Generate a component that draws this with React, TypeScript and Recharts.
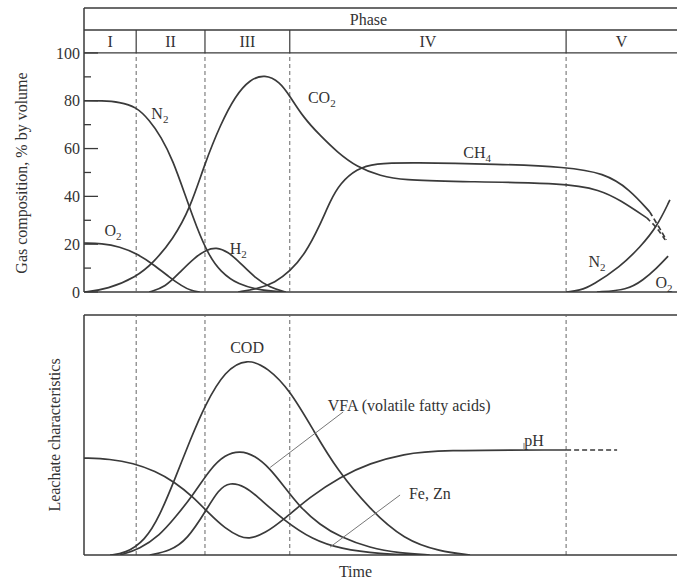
import React from 'react';
import { ComposedChart, Line, XAxis, YAxis, ReferenceLine, ReferenceArea, ReferenceDot } from 'recharts';

const FONT = '"Liberation Serif", "DejaVu Serif", serif';
const INK = '#3a3a3a';
const TEXT = '#333';

// phase boundaries on the time axis (0..100)
const PHASE_BOUNDS = [0, 8.8, 20.4, 34.7, 81.3, 100];
const PHASES = ['I', 'II', 'III', 'IV', 'V'];
const GAS_TICKS = [0, 10, 20, 30, 40, 50, 60, 70, 80, 90, 100];

// gas composition, [time, % by volume]
const N2_EARLY: number[][] = [[0, 80], [3, 80], [6, 79.5], [8.8, 77.5], [11, 72], [13, 65], [15, 55], [17, 41], [19, 27], [21, 15.5], [23, 8.5], [26, 3], [30, 0.6], [34, 0]];
const O2_EARLY: number[][] = [[0, 20.5], [3, 20.3], [6, 19], [9, 16], [12, 11], [14.5, 6], [16.5, 2.5], [18, 0.6], [19.5, 0]];
const CO2: number[][] = [[0, 0], [4, 1.2], [8.8, 6.3], [11.6, 12], [15, 22], [17.9, 35], [20.4, 54], [23, 70], [25.5, 82], [28, 89], [30.5, 91], [33, 88], [34.7, 82], [37, 73], [39.8, 65.5], [42.7, 58.5], [46, 52.3], [50, 48.5], [54, 46.8], [62, 46.2], [81.3, 45.6], [87, 42.7], [90.4, 38.5], [94.9, 31]];
const CO2_TAIL: number[][] = [[94.9, 31], [96.6, 27], [98, 21.8]];
const CH4: number[][] = [[26, 0], [29.5, 1.5], [32.2, 4], [34.7, 8.5], [37.3, 16], [39.8, 28], [41.5, 38], [43.2, 45.5], [46, 51.5], [49, 53.8], [55, 54.2], [70, 53.5], [81.3, 52.3], [87.7, 49.8], [92, 43], [95.4, 33.5]];
const CH4_TAIL: number[][] = [[95.4, 33.5], [97, 27], [98.2, 21.8]];
const H2: number[][] = [[11, 0], [13.7, 2], [16.2, 8.4], [18.7, 14.5], [20.6, 17.6], [22.3, 18.8], [24.3, 16.8], [26.3, 12.3], [28.8, 6], [31.4, 1.8], [34, 0]];
const N2_LATE: number[][] = [[81.3, 0], [83.6, 0.6], [85.8, 2.9], [90.4, 10.5], [93.8, 18.8], [96.6, 27.2], [98.8, 38.5]];
const O2_LATE: number[][] = [[86.5, 0], [91.6, 0.8], [94.3, 5], [96.6, 10], [98.5, 15]];

// leachate characteristics, [time, relative level]
const PH: number[][] = [[0, 40.4], [4.4, 40], [8.3, 38.3], [12, 35], [15.3, 30.4], [18.4, 24.2], [21, 17.5], [23.8, 11], [26.3, 7.5], [28, 6.7], [30.5, 9], [33.6, 14.6], [38.1, 24.2], [43.2, 32.5], [48.2, 38.3], [54, 42.1], [59.5, 43.75], [81.3, 43.75]];
const PH_TAIL: number[][] = [[81.3, 43.75], [89.9, 43.75]];
const COD: number[][] = [[4.4, 0], [6.9, 0.6], [10.3, 6], [12.8, 16.5], [15.3, 31.5], [17.9, 47.9], [20.4, 62.5], [23.8, 77], [27.5, 82], [31, 78], [34.7, 68.8], [38.9, 51], [42.7, 35.4], [48.2, 19], [54, 6.3], [60, 1.5], [65.1, 0]];
const VFA: number[][] = [[6.1, 0], [9.4, 2.5], [12.8, 8.3], [15.3, 15.4], [18.4, 25], [21.3, 36], [23.8, 41.8], [26.3, 43.5], [28.8, 41.5], [31.4, 36], [33.9, 28], [36.4, 20], [39.8, 12.5], [43.2, 7.5], [48.2, 2.9], [53.3, 0.8], [58.3, 0]];
const FE_ZN: number[][] = [[11.1, 0], [14.5, 1.7], [17.4, 6.3], [20.7, 19], [22.6, 27], [24.6, 30.5], [27.2, 28.5], [29.2, 24.5], [33.6, 14.6], [38.6, 6.3], [43.2, 2.6], [49.9, 0.4], [56.7, 0]];

const GAS_LABELS = [
  { t: 12.8, v: 74.9, text: 'N', sub: '2' },
  { t: 40.1, v: 81.6, text: 'CO', sub: '2' },
  { t: 4.9, v: 25.9, text: 'O', sub: '2' },
  { t: 26.0, v: 18.4, text: 'H', sub: '2' },
  { t: 66.3, v: 58.2, text: 'CH', sub: '4' },
  { t: 86.5, v: 12.6, text: 'N', sub: '2' },
  { t: 97.8, v: 4.2, text: 'O', sub: '2' },
];
const LEACHATE_LABELS = [
  { t: 27.5, v: 86.7, text: 'COD', anchor: 'middle' },
  { t: 41.1, v: 62.5, text: 'VFA (volatile fatty acids)', anchor: 'start' },
  { t: 75.9, v: 47.9, text: 'pH', anchor: 'middle' },
  { t: 54.8, v: 25.8, text: 'Fe, Zn', anchor: 'start' },
];
const LEADERS = [
  [[31.4, 36.5], [43.7, 59.6]],
  [[41.5, 3.3], [53.3, 25]],
  [[74.2, 43.75], [74.2, 46.7]],
];

const pts = (arr: number[][]) => arr.map(([t, v]) => ({ t, v }));

const makeLabel = (text: string, sub?: string, anchor: string = 'middle', dx = 0) => (props: any) => {
  const vb = props.viewBox || {};
  const x = (vb.x ?? 0) + (vb.width ?? 0) / 2 + dx;
  const y = (vb.y ?? 0) + (vb.height ?? 0) / 2;
  return (
    <text x={x} y={y} dy="0.35em" textAnchor={anchor} fontFamily={FONT} fontSize={16} fill={TEXT}>
      {text}
      {sub && <tspan fontSize={11} dy={4}>{sub}</tspan>}
    </text>
  );
};

const GasTick = (props: any) => {
  const { x, y, payload } = props;
  const major = payload.value % 20 === 0;
  return (
    <g>
      <line x1={x + 4} x2={x + 4 + (major ? 14 : 7)} y1={y} y2={y} stroke={INK} strokeWidth={1.3} />
      {major && (
        <text x={x} y={y} dy="0.35em" textAnchor="end" fontFamily={FONT} fontSize={16} fill={TEXT}>
          {payload.value}
        </text>
      )}
    </g>
  );
};

const axisTitle = (text: string, dx: number, dy: number) => (props: any) => {
  const vb = props.viewBox || {};
  const x = (vb.x ?? 0) + dx;
  const y = (vb.y ?? 0) + (vb.height ?? 0) / 2 + dy;
  return (
    <text x={x} y={y} transform={`rotate(-90 ${x} ${y})`} textAnchor="middle" fontFamily={FONT} fontSize={16} fill={TEXT}>
      {text}
    </text>
  );
};

const curve = (key: string, arr: number[][], dashed = false) => (
  <Line
    key={key}
    data={pts(arr)}
    dataKey="v"
    type="basis"
    dot={false}
    activeDot={false}
    stroke={INK}
    strokeWidth={1.7}
    strokeDasharray={dashed ? '5 3' : undefined}
    isAnimationActive={false}
  />
);

const GAS_TOP = 118.8;
const ROW_LINE = 109.6;

const App: React.FC = () => {
  return (
    <div style={{ position: 'absolute', left: 0, top: 0, width: 677, height: 579, background: '#fff' }}>
      <div style={{ position: 'absolute', left: 0, top: 0 }}>
        <ComposedChart width={677} height={300} margin={{ top: 8, right: 0, bottom: 8, left: 0 }}>
          <XAxis type="number" dataKey="t" domain={[0, 100]} hide allowDataOverflow />
          <YAxis
            type="number"
            domain={[0, GAS_TOP]}
            ticks={GAS_TICKS}
            interval={0}
            width={84}
            tickSize={0}
            tickMargin={4}
            tickLine={false}
            tick={<GasTick />}
            axisLine={{ stroke: INK, strokeWidth: 1.5 }}
            allowDataOverflow
            label={axisTitle('Gas composition, % by volume', 27, 23)}
          />
          <ReferenceLine y={GAS_TOP} stroke={INK} strokeWidth={1.5} />
          <ReferenceLine y={ROW_LINE} stroke={INK} strokeWidth={1.3} />
          <ReferenceLine y={100} stroke={INK} strokeWidth={1.3} />
          <ReferenceLine y={0} stroke={INK} strokeWidth={1.5} />
          <ReferenceArea x1={0} x2={100} y1={ROW_LINE} y2={GAS_TOP} fillOpacity={0} strokeOpacity={0} label={makeLabel('Phase', undefined, 'middle', -12)} />
          {PHASES.map((p, i) => (
            <ReferenceArea key={p} x1={PHASE_BOUNDS[i]} x2={PHASE_BOUNDS[i + 1]} y1={100} y2={ROW_LINE} fillOpacity={0} strokeOpacity={0} label={makeLabel(p)} />
          ))}
          {PHASE_BOUNDS.slice(1, -1).map((b) => (
            <ReferenceLine key={`s${b}`} segment={[{ x: b, y: 100 }, { x: b, y: ROW_LINE }]} stroke={INK} strokeWidth={1.2} />
          ))}
          {PHASE_BOUNDS.slice(1, -1).map((b) => (
            <ReferenceLine key={`d${b}`} segment={[{ x: b, y: 0 }, { x: b, y: 100 }]} stroke="#666" strokeWidth={1} strokeDasharray="4 3" />
          ))}
          {curve('n2e', N2_EARLY)}
          {curve('o2e', O2_EARLY)}
          {curve('co2', CO2)}
          {curve('co2t', CO2_TAIL, true)}
          {curve('ch4', CH4)}
          {curve('ch4t', CH4_TAIL, true)}
          {curve('h2', H2)}
          {curve('n2l', N2_LATE)}
          {curve('o2l', O2_LATE)}
          {GAS_LABELS.map((l, i) => (
            <ReferenceDot key={`gl${i}`} x={l.t} y={l.v} r={0} fillOpacity={0} strokeOpacity={0} label={makeLabel(l.text, l.sub)} />
          ))}
        </ComposedChart>
      </div>
      <div style={{ position: 'absolute', left: 0, top: 300 }}>
        <ComposedChart width={677} height={279} margin={{ top: 15, right: 0, bottom: 0, left: 0 }}>
          <XAxis
            type="number"
            dataKey="t"
            domain={[0, 100]}
            height={24}
            tick={false}
            tickLine={false}
            axisLine={{ stroke: INK, strokeWidth: 1.5 }}
            allowDataOverflow
            label={{ value: 'Time', position: 'insideBottom', offset: 2, dx: -25, fontFamily: FONT, fontSize: 16, fill: TEXT }}
          />
          <YAxis
            type="number"
            domain={[0, 100]}
            width={84}
            tick={false}
            tickLine={false}
            axisLine={{ stroke: INK, strokeWidth: 1.5 }}
            allowDataOverflow
            label={axisTitle('Leachate characteristics', 60, 0)}
          />
          <ReferenceLine y={100} stroke={INK} strokeWidth={1.5} />
          {PHASE_BOUNDS.slice(1, -1).map((b) => (
            <ReferenceLine key={`bd${b}`} segment={[{ x: b, y: 0 }, { x: b, y: 100 }]} stroke="#666" strokeWidth={1} strokeDasharray="4 3" />
          ))}
          {curve('ph', PH)}
          {curve('pht', PH_TAIL, true)}
          {curve('cod', COD)}
          {curve('vfa', VFA)}
          {curve('fe', FE_ZN)}
          {LEADERS.map((seg, i) => (
            <ReferenceLine key={`ld${i}`} segment={[{ x: seg[0][0], y: seg[0][1] }, { x: seg[1][0], y: seg[1][1] }]} stroke="#777" strokeWidth={1} />
          ))}
          {LEACHATE_LABELS.map((l, i) => (
            <ReferenceDot key={`ll${i}`} x={l.t} y={l.v} r={0} fillOpacity={0} strokeOpacity={0} label={makeLabel(l.text, undefined, l.anchor)} />
          ))}
        </ComposedChart>
      </div>
    </div>
  );
};

export default App;
